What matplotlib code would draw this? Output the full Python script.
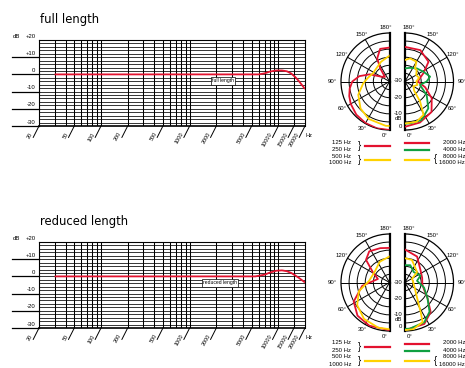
import numpy as np
import matplotlib
matplotlib.use("Agg")
import matplotlib.pyplot as plt
from matplotlib.lines import Line2D

# ---------------- data ----------------
titles = ["full length", "reduced length"]
box_labels = ["full length", "reduced length"]
box_pos = [(2380, -3.8), (2200, -3.7)]

resp_freq_full = [30, 6000, 7000, 8000, 9500, 11000, 12500, 14000, 15500, 17000, 18500, 20000]
resp_db_full = [0, 0, 0.6, 1.6, 2.3, 2.3, 1.8, 0.5, -1.5, -3.8, -6.2, -8.5]
resp_freq_red = [30, 5500, 7000, 8000, 9500, 11000, 12500, 14000, 15500, 17000, 18500, 20000]
resp_db_red = [0, 0, 1.0, 2.2, 3.3, 3.5, 3.0, 2.0, 0.6, -0.8, -2.2, -3.5]

xtick_freqs = [20, 50, 100, 200, 500, 1000, 2000, 5000, 10000, 15000, 20000]
xtick_labels = ["20", "50", "100", "200", "500", "1000", "2000", "5000", "10000", "15000", "20000"]
ytick_vals = [10, 0, -10, -20, -30]
ytick_labels = ["+10", "0", "-10", "-20", "-30"]

angle_labels = ["30°", "60°", "90°", "120°", "150°"]
angle_vals = [30, 60, 90, 120, 150]
rad_labels = ["-30", "-20", "-10"]
rad_vals = [-30, -20, -10]

# polar: full length, low frequencies (left half)
fl_lo_red_ang = [0, 15, 30, 45, 60, 70, 80, 90, 100, 110, 120, 135, 145, 152, 164, 180]
fl_lo_red_db = [0, 0, -0.3, -1, -2.3, -3.5, -5, -7, -11, -17, -24, -26, -20, -13.8, -9, -9]
fl_lo_yel_ang = [0, 5, 29, 47, 67, 86, 100, 117, 135, 157, 180]
fl_lo_yel_db = [-2.5, -2.5, -3.5, -5.5, -9, -13.7, -16.5, -18.6, -18.5, -16.7, -14]
# polar: full length, high frequencies (right half)
fl_hi_red_ang = [0, 20, 41, 58, 74, 90, 100, 114, 130, 154, 180]
fl_hi_red_db = [-2, -3, -5, -10.5, -17, -22, -21, -17.6, -11, -8.4, -8.6]
fl_hi_grn_ang = [0, 7, 23, 41, 58, 77, 90, 101, 118, 138, 160, 180]
fl_hi_grn_db = [-3.9, -3.9, -4, -8, -14.2, -20.5, -16.6, -14.2, -17.1, -19.1, -21, -21.9]
fl_hi_yel_ang = [0, 16, 29, 37, 45, 60, 75, 90, 105, 120, 135, 143, 150, 168, 180]
fl_hi_yel_db = [-4, -4.1, -6.4, -14.5, -22, -24, -22, -23, -21, -22, -19.8, -19.8, -15.8, -15.4, -16.7]

# polar: reduced length
rl_lo_red_ang = [0, 25, 44, 62, 83, 107, 122, 134, 147, 165, 180]
rl_lo_red_db = [-0.5, -0.5, -1.5, -4.9, -13, -22.5, -17.8, -9.8, -7, -8, -8.6]
rl_lo_yel_ang = [0, 14, 35, 55, 74, 95, 125, 155, 180]
rl_lo_yel_db = [-1.1, -1.2, -2.5, -5.6, -10.3, -17.4, -18.7, -15.8, -13.9]
rl_hi_red_ang = [0, 4, 25, 41, 55, 70, 84, 105, 128, 155, 180]
rl_hi_red_db = [-1.1, -1.1, -1.7, -5.8, -13, -17.5, -19.2, -19, -17.8, -12.3, -9.6]
rl_hi_grn_ang = [0, 6, 26, 40, 55, 75, 98, 114, 140, 163, 180]
rl_hi_grn_db = [-1.3, -1.3, -2.7, -6.4, -13, -17.8, -22.5, -19.5, -21.6, -18.8, -19.3]
rl_hi_yel_ang = [0, 10, 24, 28, 38, 60, 79, 100, 117, 131, 163, 180]
rl_hi_yel_db = [-0.6, -0.6, -3.2, -9.4, -17.8, -23, -24.5, -25, -25.2, -20.1, -15.4, -15]

legend_left = ["125 Hz", "250 Hz", "500 Hz", "1000 Hz"]
legend_right = ["2000 Hz", "4000 Hz", "8000 Hz", "16000 Hz"]

RED = "#e3122f"
YEL = "#ffd200"
GRN = "#10a040"

# ---------------- figure ----------------
W, H = 465, 368
fig = plt.figure(figsize=(W / 100, H / 100), dpi=100)
SMALL = ["Liberation Sans", "DejaVu Sans"]


def fx(px):
    return px / W


def fy(py):
    return 1 - py / H


def resp_panel(dy, freqs, dbs, title, blabel, bpos):
    top, bot, left, right = 40 + dy, 126 + dy, 39, 305
    ax = fig.add_axes([fx(left), fy(bot), (right - left) / W, (bot - top) / H])
    ax.set_xscale("log")
    ax.set_xlim(20, 20000)
    ax.set_ylim(-30, 20)
    ax.set_xticks([])
    ax.set_yticks([])
    ax.minorticks_off()
    vl = list(range(30, 100, 10)) + list(range(100, 1000, 100)) + \
        list(range(1000, 10000, 1000)) + [10000, 15000]
    for v in vl:
        ax.axvline(v, color="black", lw=0.75, zorder=1)
    for h in range(-28, 20, 2):
        ax.axhline(h, color="black", lw=0.55, zorder=1)
    for s in ax.spines.values():
        s.set_linewidth(0.8)
    ax.spines["bottom"].set_linewidth(1.2)
    ax.plot(freqs, dbs, color=RED, lw=1.3, zorder=3, solid_capstyle="butt")
    ax.text(bpos[0], bpos[1], blabel, fontsize=3.6, family=SMALL, ha="center", va="center",
            zorder=4, bbox=dict(boxstyle="square,pad=0.25", facecolor="white",
                                edgecolor="black", lw=0.5))
    yt = ax.get_yaxis_transform()
    for v, lab in zip(ytick_vals, ytick_labels):
        ax.plot([-0.1, 0], [v, v], transform=yt, color="black", lw=0.9, clip_on=False)
        ax.text(-0.013, v + 0.8, lab, transform=yt, fontsize=4.3, family=SMALL,
                ha="right", va="bottom")
    ax.text(-0.013, 20.6, "+20", transform=yt, fontsize=4.3, family=SMALL, ha="right", va="bottom")
    ax.text(-0.1, 20.6, "dB", transform=yt, fontsize=4.3, family=SMALL, ha="left", va="bottom")
    for f, lab in zip(xtick_freqs, xtick_labels):
        ax.annotate("", xy=(f, 0), xycoords=("data", "axes fraction"), xytext=(-4.2, -8.3),
                    textcoords="offset points",
                    arrowprops=dict(arrowstyle="-", lw=0.7, shrinkA=0, shrinkB=0, color="black"))
        ax.annotate(lab, xy=(f, 0), xycoords=("data", "axes fraction"), xytext=(-5.2, -4.8),
                    textcoords="offset points", rotation=60, rotation_mode="anchor",
                    ha="right", va="center", fontsize=4.0, family=SMALL)
    ax.text(1.0, -0.08, "Hz", transform=ax.transAxes, fontsize=4.0, family=SMALL,
            ha="left", va="top")
    fig.text(fx(40), fy(23 + dy), title, fontsize=9.3, family="DejaVu Sans",
             fontstretch="condensed", va="baseline")


R = 48.5


def polar_half(cx, cy, side, curves):
    # the half wedge sits centred inside a square axes box of side 2R
    if side == "left":
        rect = [fx(cx - 1.5 * R), fy(cy + R), 2 * R / W, 2 * R / H]
        sign, base = -1, 270
    else:
        rect = [fx(cx - 0.5 * R), fy(cy + R), 2 * R / W, 2 * R / H]
        sign, base = 1, -90
    ax = fig.add_axes(rect, projection="polar")

    def th(a):
        return np.deg2rad(base + sign * np.asarray(a, dtype=float))

    if side == "left":
        ax.set_thetamin(90)
        ax.set_thetamax(270)
    else:
        ax.set_thetamin(-90)
        ax.set_thetamax(90)
    ax.set_rlim(-30, 0)
    ax.set_rgrids([-25, -20, -15, -10, -5], labels=[])
    ax.set_thetagrids([base + sign * a for a in angle_vals], labels=[])
    ax.grid(True, color="black", lw=0.7)
    ax.spines["polar"].set_linewidth(0.9)
    ax.spines["start"].set_linewidth(1.6)
    ax.spines["end"].set_linewidth(1.6)
    ax.spines["inner"].set_visible(False)
    ax.set_facecolor("none")
    for ang, dbs, col in curves:
        ax.plot(th(ang), dbs, color=col, lw=1.3, zorder=3)
    for a, lab in zip(angle_vals, angle_labels):
        r = 5.2 if a == 90 else 3.8
        ax.text(th(a), r, lab, fontsize=4.3, family=SMALL, ha="center", va="center",
                clip_on=False)
    ax.text(th(5), 3.6, "0°", fontsize=4.3, family=SMALL, ha="center", va="center", clip_on=False)
    ax.text(th(176), 3.6, "180°", fontsize=4.3, family=SMALL, ha="center", va="center",
            clip_on=False)
    return ax


def polar_panel(dy, lo_curves, hi_curves):
    cy = 81.5 + dy
    polar_half(389.5, cy, "left", lo_curves)
    polar_half(405, cy, "right", hi_curves)
    for v, lab in zip(rad_vals, rad_labels):
        yy = cy + (v + 30) / 30 * R - 0.5
        fig.text(fx(402.5), fy(yy), lab, fontsize=4.3, family=SMALL, ha="right", va="center")
    fig.text(fx(402.5), fy(cy + 37), "dB", fontsize=4.3, family=SMALL, ha="right", va="center")
    fig.text(fx(402.5), fy(cy + 44.5), "0", fontsize=4.3, family=SMALL, ha="right", va="center")
    # legend
    ly = [142 + dy, 149.5 + dy, 156 + dy, 163 + dy]
    for t, y in zip(legend_left, ly):
        fig.text(fx(351), fy(y), t, fontsize=4.3, family=SMALL, ha="right", va="center")
    for t, y in zip(legend_right, ly):
        fig.text(fx(465), fy(y), t, fontsize=4.3, family=SMALL, ha="right", va="center")
    fig.text(fx(358), fy(146 + dy), "}", fontsize=7, family=SMALL, ha="left", va="center")
    fig.text(fx(358), fy(160 + dy), "}", fontsize=7, family=SMALL, ha="left", va="center")
    fig.text(fx(437.5), fy(159.5 + dy), "{", fontsize=7, family=SMALL, ha="right", va="center")
    for (x0, x1, y, c) in [(365, 390, 146, RED), (365, 390, 159.5, YEL),
                           (405, 429, 142.5, RED), (405, 429, 149.7, GRN), (405, 429, 159.5, YEL)]:
        fig.add_artist(Line2D([fx(x0), fx(x1)], [fy(y + dy), fy(y + dy)], color=c, lw=1.6))


resp_panel(0, resp_freq_full, resp_db_full, titles[0], box_labels[0], box_pos[0])
resp_panel(202, resp_freq_red, resp_db_red, titles[1], box_labels[1], box_pos[1])

polar_panel(0,
            [(fl_lo_red_ang, fl_lo_red_db, RED), (fl_lo_yel_ang, fl_lo_yel_db, YEL)],
            [(fl_hi_red_ang, fl_hi_red_db, RED), (fl_hi_grn_ang, fl_hi_grn_db, GRN),
             (fl_hi_yel_ang, fl_hi_yel_db, YEL)])
polar_panel(201,
            [(rl_lo_red_ang, rl_lo_red_db, RED), (rl_lo_yel_ang, rl_lo_yel_db, YEL)],
            [(rl_hi_red_ang, rl_hi_red_db, RED), (rl_hi_grn_ang, rl_hi_grn_db, GRN),
             (rl_hi_yel_ang, rl_hi_yel_db, YEL)])

fig.savefig("out.png", dpi=100)
